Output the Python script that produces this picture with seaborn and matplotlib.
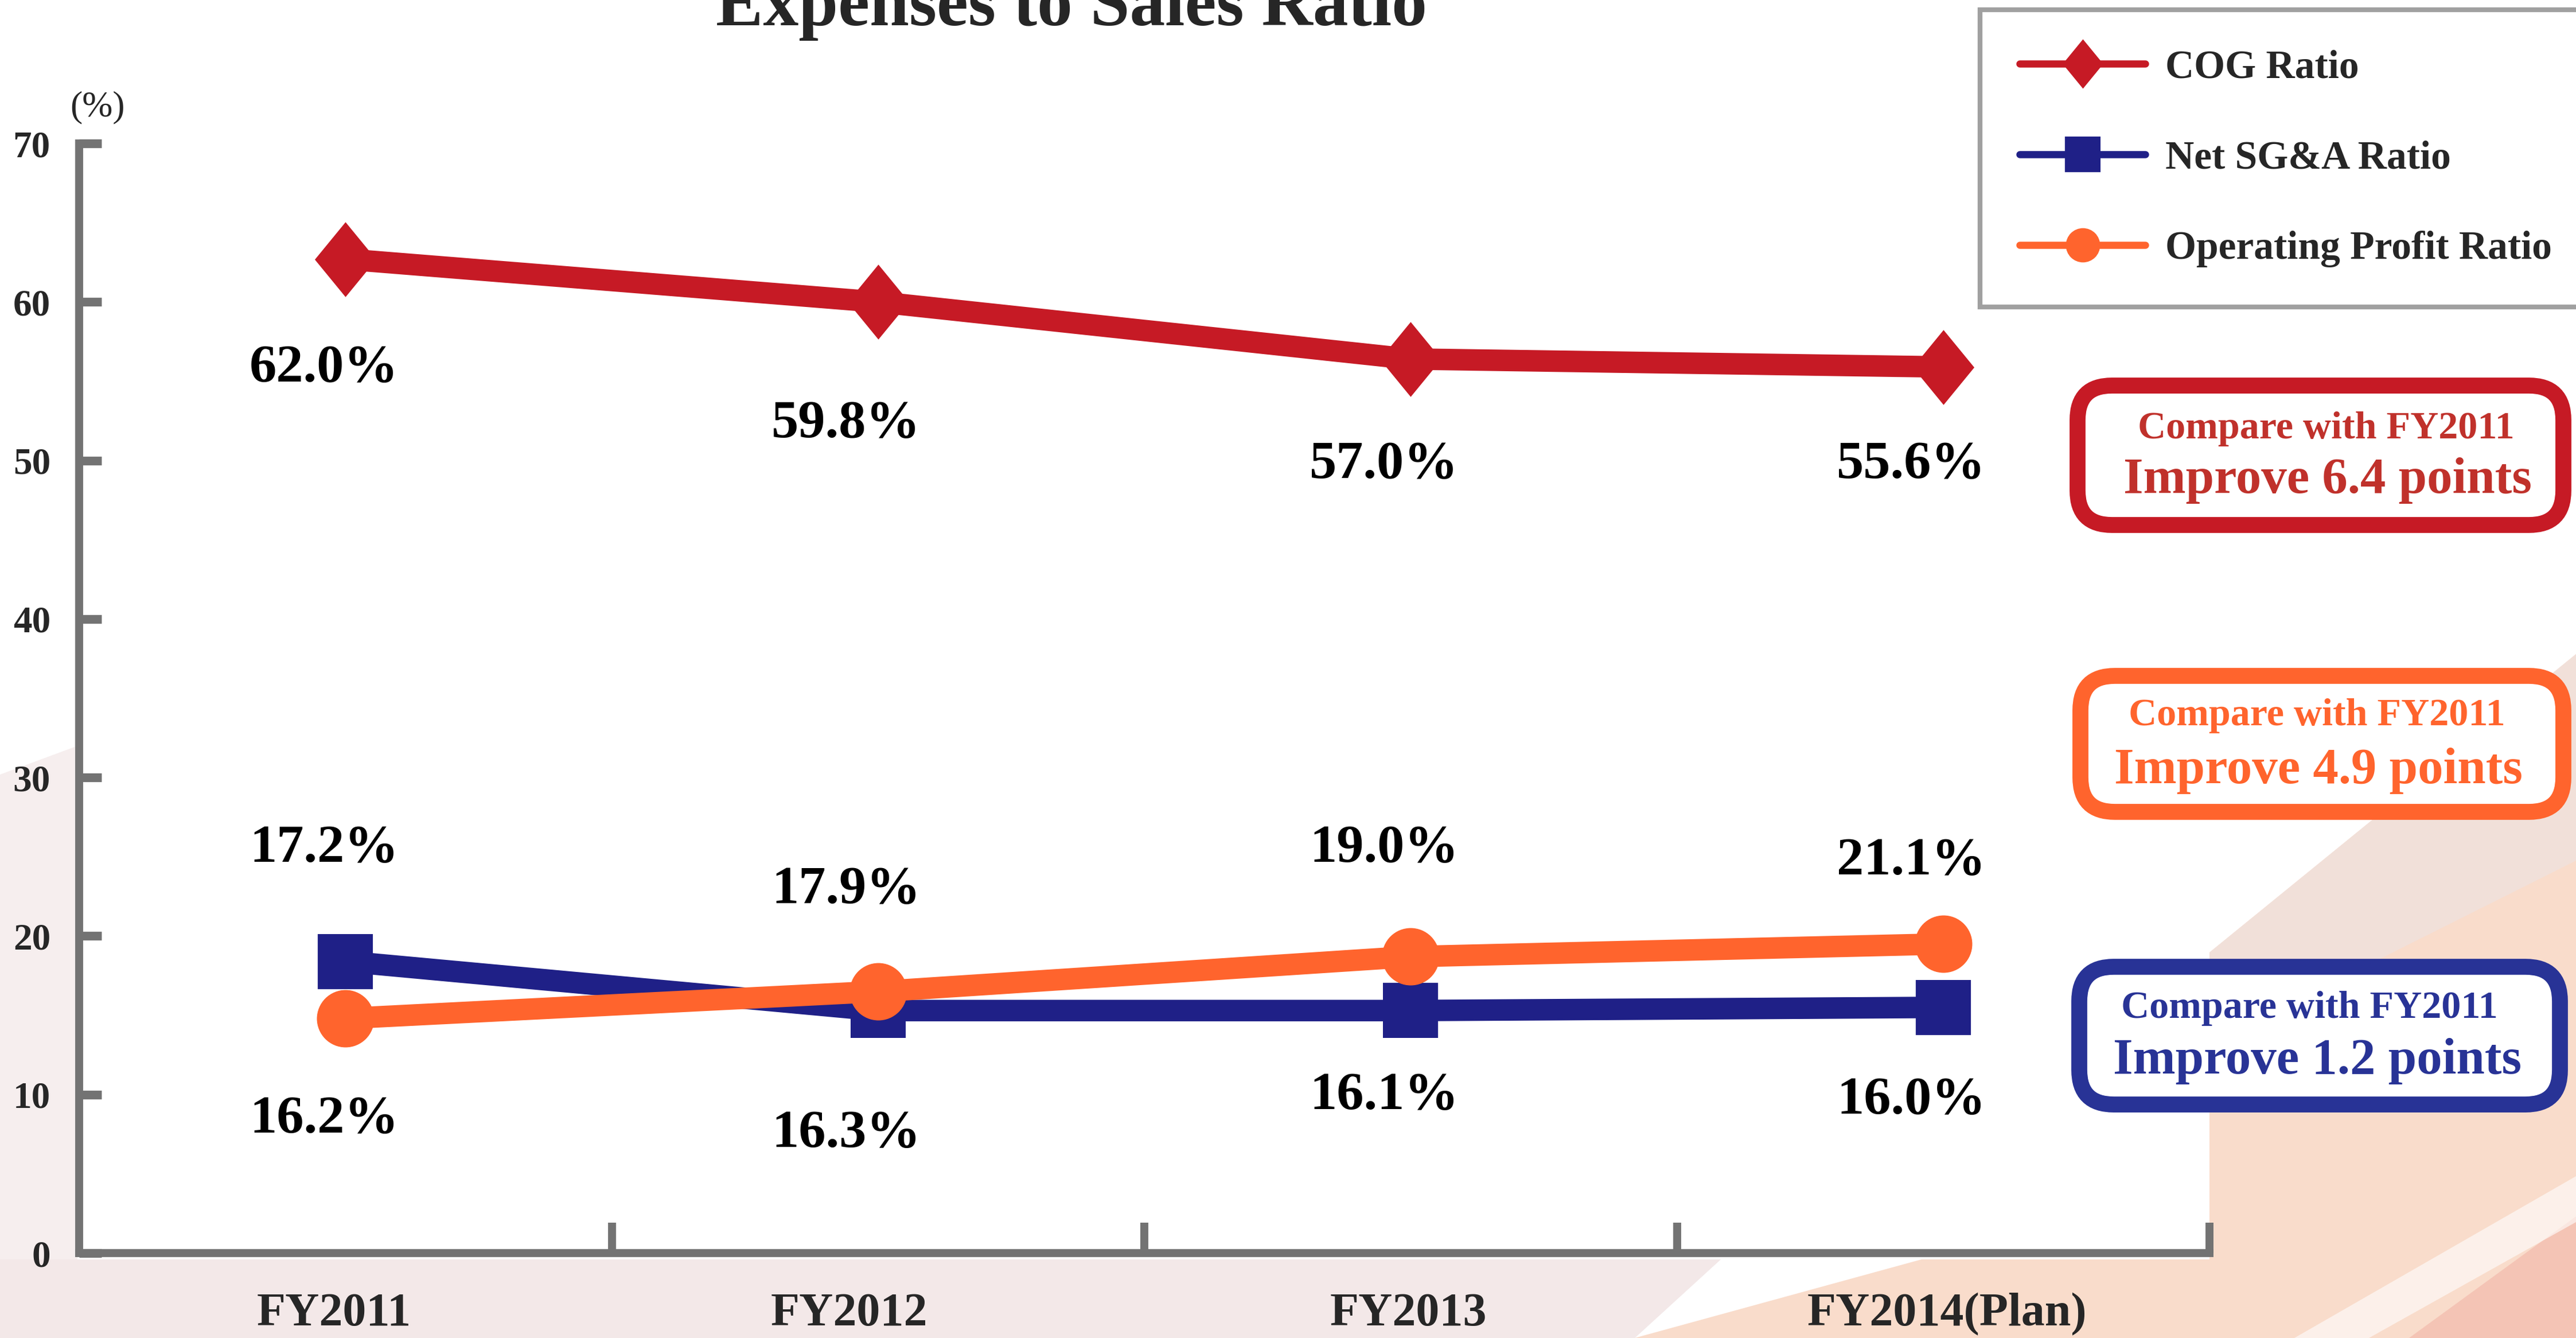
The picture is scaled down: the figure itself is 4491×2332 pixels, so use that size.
import numpy as np
import pandas as pd
import matplotlib
matplotlib.use("Agg")
import matplotlib.pyplot as plt
import matplotlib.transforms as mtransforms
import seaborn as sns
from matplotlib.lines import Line2D
from matplotlib.patches import FancyBboxPatch, Polygon

# data (plotted positions) and the printed labels
years = ["FY2011", "FY2012", "FY2013", "FY2014(Plan)"]
cog_ratio = [62.7, 60.0, 56.4, 55.9]
sga_ratio = [18.4, 15.3, 15.3, 15.5]
op_ratio = [14.8, 16.5, 18.7, 19.5]

cog_labels = ["62.0%", "59.8%", "57.0%", "55.6%"]
sga_labels = ["17.2%", "16.3%", "16.1%", "16.0%"]
op_labels = ["16.2%", "17.9%", "19.0%", "21.1%"]

series_names = ["COG Ratio", "Net SG&A Ratio", "Operating Profit Ratio"]
improve_points = ["6.4", "4.9", "1.2"]

# label layout (data units / pixels)
label_dx = [-0.04, -0.06, -0.05, -0.06]
cog_label_y = [55.8, 52.3, 49.7, 49.7]
upper_label_y = [25.5, 22.9, 25.5, 24.7]
lower_label_y = [8.4, 7.5, 9.9, 9.6]
xtick_shift_px = [-20, -50, -4, 7]

RED = "#c61a25"
NAVY = "#1f2087"
ORANGE = "#ff642d"
BLUE_BOX = "#283396"
RED_TEXT = "#c0312b"
GREY = "#737373"

sns.set_style("ticks")
plt.rcParams["font.family"] = ["Liberation Serif", "DejaVu Serif"]
plt.rcParams["font.weight"] = "bold"

W, H = 4491, 2332
fig = plt.figure(figsize=(W / 100, H / 100), dpi=100, facecolor="white")

# faint slide background
bg = fig.add_axes([0, 0, 1, 1], zorder=-1)
bg.set_xlim(0, W)
bg.set_ylim(H, 0)
bg.axis("off")
bg.add_patch(Polygon([(0, 1350), (135, 1300), (135, 2195), (3000, 2195), (2850, H), (0, H)],
                     closed=True, color="#f6eeee", lw=0))
bg.add_patch(Polygon([(0, 2195), (3000, 2195), (2850, H), (0, H)],
                     closed=True, color="#f1e4e4", lw=0, alpha=0.6))
bg.add_patch(Polygon([(3852, 1660), (W, 1140), (W, H), (2850, H), (3350, 2195), (3852, 2195)],
                     closed=True, color="#f9dccb", lw=0))
bg.add_patch(Polygon([(3852, 1660), (W, 1140), (W, 1500), (3852, 1820)],
                     closed=True, color="#efe2e0", lw=0, alpha=0.7))
bg.add_patch(Polygon([(4200, H), (W, 2120), (W, H)], closed=True, color="#f0ada0", lw=0, alpha=0.5))
bg.add_patch(Polygon([(4000, H), (W, 2050), (W, 2130), (4130, H)], closed=True, color="white", lw=0, alpha=0.6))

x0, x1 = 138, 3852
y0, y70 = 2184, 250
ax = fig.add_axes([x0 / W, 1 - y0 / H, (x1 - x0) / W, (y0 - y70) / H], zorder=1)
ax.set_facecolor("white")

df = pd.DataFrame({"pos": np.arange(len(years)), "cog": cog_ratio, "sga": sga_ratio, "op": op_ratio})

diamond = [(0, 1), (0.82, 0), (0, -1), (-0.82, 0), (0, 1)]
sns.lineplot(data=df, x="pos", y="cog", ax=ax, color=RED, lw=27, marker=diamond, ms=94,
             mec=RED, mew=0, legend=False, zorder=3)
sns.lineplot(data=df, x="pos", y="sga", ax=ax, color=NAVY, lw=27, marker="s", ms=69,
             mec=NAVY, mew=0, legend=False, zorder=3)
sns.lineplot(data=df, x="pos", y="op", ax=ax, color=ORANGE, lw=27, marker="o", ms=72,
             mec=ORANGE, mew=0, legend=False, zorder=4)

# value labels
for i in range(len(years)):
    ax.text(i + label_dx[i], cog_label_y[i], cog_labels[i], ha="center", va="center",
            fontsize=68, fontweight="bold", color="black")
    if sga_ratio[i] > op_ratio[i]:
        up, low = sga_labels[i], op_labels[i]
    else:
        up, low = op_labels[i], sga_labels[i]
    ax.text(i + label_dx[i], upper_label_y[i], up, ha="center", va="center",
            fontsize=68, fontweight="bold", color="black")
    ax.text(i + label_dx[i], lower_label_y[i], low, ha="center", va="center",
            fontsize=68, fontweight="bold", color="black")

ax.set_xlim(-0.5, 3.5)
ax.set_ylim(0, 70)
ax.set_xlabel("")
ax.set_ylabel("")
ax.set_yticks(np.arange(0, 71, 10))
ax.set_xticks(np.arange(len(years)))
ax.set_xticklabels(years)
ax.set_xticks([0.5, 1.5, 2.5, 3.5], minor=True)
ax.tick_params(axis="y", direction="in", length=28, width=11, color=GREY,
               labelsize=47, pad=36)
ax.tick_params(axis="x", which="major", length=0, labelsize=59, pad=50)
ax.tick_params(axis="x", which="minor", direction="in", length=38, width=10, color=GREY)
for lab in ax.get_xticklabels() + ax.get_yticklabels():
    lab.set_fontweight("bold")
for lab, dx in zip(ax.get_xticklabels(), xtick_shift_px):
    lab.set_transform(lab.get_transform() + mtransforms.Affine2D().translate(dx, 0))
for side in ["top", "right"]:
    ax.spines[side].set_visible(False)
for side in ["left", "bottom"]:
    ax.spines[side].set_color(GREY)
    ax.spines[side].set_linewidth(10)
    ax.spines[side].set_capstyle("projecting")

# legend
handles = [
    Line2D([0], [0], color=RED, lw=9, marker=diamond, ms=62, mew=0, solid_capstyle="round"),
    Line2D([0], [0], color=NAVY, lw=9, marker="s", ms=44, mew=0, solid_capstyle="round"),
    Line2D([0], [0], color=ORANGE, lw=9, marker="o", ms=43, mew=0, solid_capstyle="round"),
]
leg = ax.legend(handles, series_names, loc="upper left", bbox_to_anchor=(3452 / W, 1 - 17 / H),
                bbox_transform=fig.transFigure, fontsize=50, handlelength=3.15, handletextpad=0.5,
                borderpad=1.0, labelspacing=1.35, frameon=True, fancybox=False,
                edgecolor="#a0a0a0", framealpha=1, borderaxespad=0)
leg.get_frame().set_linewidth(6)
for t in leg.get_texts():
    t.set_fontweight("bold")

fig.text(1868 / W, 1 - 44 / H, "Expenses to Sales Ratio", ha="center", va="baseline",
         fontsize=89, fontweight="bold")
fig.text(170 / W, 1 - 187 / H, "(%)", ha="center", va="center", fontsize=46, fontweight="normal")

# comparison callouts
ov = fig.add_axes([0, 0, 1, 1], zorder=5)
ov.set_xlim(0, W)
ov.set_ylim(H, 0)
ov.axis("off")
ov.patch.set_alpha(0)
callouts = [
    (RED, RED_TEXT, (3622, 672, 4469, 915), (4055, 747), (4058, 837)),
    (ORANGE, ORANGE, (3627, 1178, 4469, 1415), (4039, 1247), (4042, 1343)),
    (BLUE_BOX, BLUE_BOX, (3625, 1685, 4463, 1925), (4026, 1758), (4040, 1850)),
]
for (edge, tcol, box, t1, t2), pts in zip(callouts, improve_points):
    bx0, by0, bx1, by1 = box
    ov.add_patch(FancyBboxPatch((bx0, by0), bx1 - bx0, by1 - by0,
                                boxstyle="round,pad=0,rounding_size=60",
                                facecolor="white", edgecolor=edge, lw=20))
    ov.text(*t1, "Compare with FY2011", ha="center", va="center", fontsize=49,
            fontweight="bold", color=tcol)
    ov.text(*t2, f"Improve {pts} points", ha="center", va="center", fontsize=64,
            fontweight="bold", color=tcol)

fig.savefig("out.png", dpi=100, facecolor="white")
